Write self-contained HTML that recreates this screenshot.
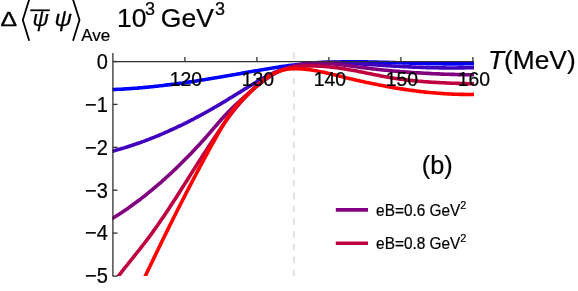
<!DOCTYPE html>
<html><head><meta charset="utf-8"><title>plot</title>
<style>
html,body{margin:0;padding:0;background:#fff;}
body{width:578px;height:291px;position:relative;overflow:hidden;font-family:"Liberation Sans",sans-serif;color:#000;}
svg{display:block;}
</style></head><body>
<svg width="578" height="291" viewBox="0 0 578 291" style="position:absolute;left:0;top:0;will-change:transform">
<line x1="293.9" y1="52.6" x2="293.9" y2="275.75" stroke="#dcdcdc" stroke-width="1.6" stroke-dasharray="6.4 6.35"/>
<g fill="none" stroke-width="3.6" stroke-linejoin="round" clip-path="url(#cp)">
<path d="M109.0,89.7 L110.5,89.6 L112.0,89.6 L113.5,89.5 L115.0,89.5 L116.5,89.4 L118.0,89.3 L119.5,89.3 L121.0,89.2 L122.5,89.1 L124.0,89.0 L125.5,88.9 L127.0,88.8 L128.5,88.7 L130.0,88.6 L131.5,88.5 L133.0,88.4 L134.5,88.3 L136.0,88.2 L137.5,88.1 L139.0,87.9 L140.5,87.8 L142.0,87.7 L143.5,87.5 L145.0,87.4 L146.5,87.3 L148.0,87.1 L149.5,87.0 L151.0,86.8 L152.5,86.7 L154.0,86.5 L155.5,86.3 L157.0,86.2 L158.5,86.0 L160.0,85.8 L161.5,85.7 L163.0,85.5 L164.5,85.3 L166.0,85.1 L167.5,84.9 L169.0,84.8 L170.5,84.6 L172.0,84.4 L173.5,84.2 L175.0,84.0 L176.5,83.8 L178.0,83.6 L179.5,83.4 L181.0,83.2 L182.5,83.0 L184.0,82.7 L185.5,82.5 L187.0,82.3 L188.5,82.1 L190.0,81.9 L191.5,81.7 L193.0,81.4 L194.5,81.2 L196.0,81.0 L197.5,80.7 L199.0,80.5 L200.5,80.3 L202.0,80.0 L203.5,79.8 L205.0,79.6 L206.5,79.3 L208.0,79.1 L209.5,78.8 L211.0,78.6 L212.5,78.3 L214.0,78.1 L215.5,77.8 L217.0,77.6 L218.5,77.3 L220.0,77.1 L221.5,76.8 L223.0,76.6 L224.5,76.3 L226.0,76.0 L227.5,75.8 L229.0,75.5 L230.5,75.3 L232.0,75.0 L233.5,74.7 L235.0,74.5 L236.5,74.2 L238.0,73.9 L239.5,73.7 L241.0,73.4 L242.5,73.1 L244.0,72.9 L245.5,72.6 L247.0,72.3 L248.5,72.1 L250.0,71.8 L251.5,71.5 L253.0,71.3 L254.5,71.0 L256.0,70.7 L257.5,70.5 L259.0,70.2 L260.5,70.0 L262.0,69.7 L263.5,69.5 L265.0,69.2 L266.5,69.0 L268.0,68.7 L269.5,68.5 L271.0,68.2 L272.5,68.0 L274.0,67.7 L275.5,67.5 L277.0,67.3 L278.5,67.1 L280.0,66.8 L281.5,66.6 L283.0,66.4 L284.5,66.2 L286.0,66.0 L287.5,65.8 L289.0,65.6 L290.5,65.4 L292.0,65.2 L293.5,65.0 L295.0,64.9 L296.5,64.7 L298.0,64.5 L299.5,64.4 L301.0,64.2 L302.5,64.1 L304.0,63.9 L305.5,63.8 L307.0,63.6 L308.5,63.5 L310.0,63.4 L311.5,63.3 L313.0,63.2 L314.5,63.1 L316.0,63.0 L317.5,62.9 L319.0,62.8 L320.5,62.7 L322.0,62.6 L323.5,62.5 L325.0,62.5 L326.5,62.4 L328.0,62.3 L329.5,62.3 L331.0,62.2 L332.5,62.2 L334.0,62.1 L335.5,62.1 L337.0,62.0 L338.5,62.0 L340.0,62.0 L341.5,61.9 L343.0,61.9 L344.5,61.9 L346.0,61.9 L347.5,61.9 L349.0,61.9 L350.5,61.8 L352.0,61.8 L353.5,61.8 L355.0,61.8 L356.5,61.8 L358.0,61.9 L359.5,61.9 L361.0,61.9 L362.5,61.9 L364.0,61.9 L365.5,61.9 L367.0,61.9 L368.5,62.0 L370.0,62.0 L371.5,62.0 L373.0,62.0 L374.5,62.1 L376.0,62.1 L377.5,62.1 L379.0,62.2 L380.5,62.2 L382.0,62.2 L383.5,62.3 L385.0,62.3 L386.5,62.4 L388.0,62.4 L389.5,62.5 L391.0,62.5 L392.5,62.5 L394.0,62.6 L395.5,62.6 L397.0,62.7 L398.5,62.7 L400.0,62.8 L401.5,62.8 L403.0,62.9 L404.5,62.9 L406.0,63.0 L407.5,63.0 L409.0,63.0 L410.5,63.1 L412.0,63.1 L413.5,63.2 L415.0,63.2 L416.5,63.3 L418.0,63.3 L419.5,63.4 L421.0,63.4 L422.5,63.4 L424.0,63.5 L425.5,63.5 L427.0,63.6 L428.5,63.6 L430.0,63.6 L431.5,63.7 L433.0,63.7 L434.5,63.7 L436.0,63.8 L437.5,63.8 L439.0,63.8 L440.5,63.8 L442.0,63.8 L443.5,63.9 L445.0,63.9 L446.5,63.9 L448.0,63.9 L449.5,63.9 L451.0,63.9 L452.5,63.9 L454.0,63.9 L455.5,63.9 L457.0,63.9 L458.5,63.9 L460.0,63.9 L461.5,63.9 L463.0,63.9 L464.5,63.8 L466.0,63.8 L467.5,63.8 L469.0,63.8 L470.5,63.7 L472.0,63.7 L473.5,63.6 L474.0,63.6" stroke="#0000ff"/>
<path d="M109.0,152.0 L110.5,151.6 L112.0,151.2 L113.5,150.9 L115.0,150.5 L116.5,150.1 L118.0,149.6 L119.5,149.2 L121.0,148.8 L122.5,148.3 L124.0,147.9 L125.5,147.4 L127.0,147.0 L128.5,146.5 L130.0,146.0 L131.5,145.5 L133.0,145.0 L134.5,144.5 L136.0,144.0 L137.5,143.5 L139.0,143.0 L140.5,142.5 L142.0,141.9 L143.5,141.4 L145.0,140.8 L146.5,140.2 L148.0,139.7 L149.5,139.1 L151.0,138.5 L152.5,137.9 L154.0,137.3 L155.5,136.7 L157.0,136.1 L158.5,135.5 L160.0,134.8 L161.5,134.2 L163.0,133.6 L164.5,132.9 L166.0,132.2 L167.5,131.6 L169.0,130.9 L170.5,130.2 L172.0,129.5 L173.5,128.9 L175.0,128.2 L176.5,127.5 L178.0,126.7 L179.5,126.0 L181.0,125.3 L182.5,124.6 L184.0,123.8 L185.5,123.1 L187.0,122.3 L188.5,121.6 L190.0,120.8 L191.5,120.0 L193.0,119.3 L194.5,118.5 L196.0,117.7 L197.5,116.9 L199.0,116.1 L200.5,115.3 L202.0,114.5 L203.5,113.7 L205.0,112.8 L206.5,112.0 L208.0,111.2 L209.5,110.3 L211.0,109.5 L212.5,108.6 L214.0,107.7 L215.5,106.9 L217.0,106.0 L218.5,105.1 L220.0,104.3 L221.5,103.4 L223.0,102.5 L224.5,101.6 L226.0,100.7 L227.5,99.8 L229.0,98.8 L230.5,97.9 L232.0,97.0 L233.5,96.1 L235.0,95.1 L236.5,94.2 L238.0,93.3 L239.5,92.4 L241.0,91.4 L242.5,90.5 L244.0,89.6 L245.5,88.6 L247.0,87.7 L248.5,86.8 L250.0,85.9 L251.5,85.0 L253.0,84.1 L254.5,83.2 L256.0,82.3 L257.5,81.4 L259.0,80.5 L260.5,79.7 L262.0,78.8 L263.5,78.0 L265.0,77.2 L266.5,76.4 L268.0,75.6 L269.5,74.8 L271.0,74.1 L272.5,73.4 L274.0,72.7 L275.5,72.0 L277.0,71.4 L278.5,70.8 L280.0,70.2 L281.5,69.6 L283.0,69.1 L284.5,68.6 L286.0,68.1 L287.5,67.6 L289.0,67.2 L290.5,66.8 L292.0,66.4 L293.5,66.0 L295.0,65.6 L296.5,65.3 L298.0,65.0 L299.5,64.7 L301.0,64.4 L302.5,64.2 L304.0,64.0 L305.5,63.7 L307.0,63.5 L308.5,63.4 L310.0,63.2 L311.5,63.0 L313.0,62.9 L314.5,62.8 L316.0,62.7 L317.5,62.6 L319.0,62.5 L320.5,62.5 L322.0,62.4 L323.5,62.4 L325.0,62.3 L326.5,62.3 L328.0,62.3 L329.5,62.3 L331.0,62.3 L332.5,62.4 L334.0,62.4 L335.5,62.4 L337.0,62.5 L338.5,62.5 L340.0,62.6 L341.5,62.7 L343.0,62.8 L344.5,62.8 L346.0,62.9 L347.5,63.0 L349.0,63.1 L350.5,63.2 L352.0,63.3 L353.5,63.4 L355.0,63.5 L356.5,63.6 L358.0,63.7 L359.5,63.8 L361.0,63.9 L362.5,64.0 L364.0,64.1 L365.5,64.2 L367.0,64.3 L368.5,64.4 L370.0,64.5 L371.5,64.6 L373.0,64.7 L374.5,64.8 L376.0,64.9 L377.5,65.0 L379.0,65.1 L380.5,65.2 L382.0,65.3 L383.5,65.4 L385.0,65.5 L386.5,65.6 L388.0,65.7 L389.5,65.8 L391.0,65.9 L392.5,66.0 L394.0,66.1 L395.5,66.2 L397.0,66.2 L398.5,66.3 L400.0,66.4 L401.5,66.5 L403.0,66.6 L404.5,66.6 L406.0,66.7 L407.5,66.8 L409.0,66.9 L410.5,66.9 L412.0,67.0 L413.5,67.1 L415.0,67.1 L416.5,67.2 L418.0,67.3 L419.5,67.3 L421.0,67.4 L422.5,67.4 L424.0,67.5 L425.5,67.5 L427.0,67.6 L428.5,67.6 L430.0,67.7 L431.5,67.7 L433.0,67.7 L434.5,67.8 L436.0,67.8 L437.5,67.8 L439.0,67.9 L440.5,67.9 L442.0,67.9 L443.5,67.9 L445.0,67.9 L446.5,68.0 L448.0,68.0 L449.5,68.0 L451.0,68.0 L452.5,68.0 L454.0,68.0 L455.5,68.0 L457.0,68.0 L458.5,67.9 L460.0,67.9 L461.5,67.9 L463.0,67.9 L464.5,67.9 L466.0,67.8 L467.5,67.8 L469.0,67.8 L470.5,67.7 L472.0,67.7 L473.5,67.6 L474.0,67.6" stroke="#4000bf"/>
<path d="M109.0,220.5 L110.5,219.6 L112.0,218.7 L113.5,217.7 L115.0,216.8 L116.5,215.9 L118.0,214.9 L119.5,213.9 L121.0,213.0 L122.5,212.0 L124.0,210.9 L125.5,209.9 L127.0,208.9 L128.5,207.9 L130.0,206.8 L131.5,205.7 L133.0,204.6 L134.5,203.6 L136.0,202.4 L137.5,201.3 L139.0,200.2 L140.5,199.1 L142.0,197.9 L143.5,196.7 L145.0,195.6 L146.5,194.4 L148.0,193.2 L149.5,191.9 L151.0,190.7 L152.5,189.5 L154.0,188.2 L155.5,186.9 L157.0,185.7 L158.5,184.4 L160.0,183.1 L161.5,181.8 L163.0,180.4 L164.5,179.1 L166.0,177.7 L167.5,176.4 L169.0,175.0 L170.5,173.6 L172.0,172.2 L173.5,170.8 L175.0,169.4 L176.5,167.9 L178.0,166.5 L179.5,165.0 L181.0,163.5 L182.5,162.0 L184.0,160.5 L185.5,159.0 L187.0,157.5 L188.5,156.0 L190.0,154.4 L191.5,152.9 L193.0,151.3 L194.5,149.7 L196.0,148.1 L197.5,146.5 L199.0,144.9 L200.5,143.3 L202.0,141.6 L203.5,140.0 L205.0,138.3 L206.5,136.6 L208.0,134.9 L209.5,133.2 L211.0,131.4 L212.5,129.7 L214.0,127.9 L215.5,126.2 L217.0,124.5 L218.5,122.7 L220.0,121.0 L221.5,119.3 L223.0,117.7 L224.5,116.0 L226.0,114.4 L227.5,112.8 L229.0,111.2 L230.5,109.7 L232.0,108.2 L233.5,106.8 L235.0,105.4 L236.5,104.0 L238.0,102.6 L239.5,101.3 L241.0,99.9 L242.5,98.6 L244.0,97.2 L245.5,95.9 L247.0,94.5 L248.5,93.2 L250.0,91.9 L251.5,90.6 L253.0,89.3 L254.5,88.0 L256.0,86.7 L257.5,85.5 L259.0,84.3 L260.5,83.1 L262.0,82.0 L263.5,80.8 L265.0,79.7 L266.5,78.7 L268.0,77.7 L269.5,76.7 L271.0,75.7 L272.5,74.8 L274.0,74.0 L275.5,73.1 L277.0,72.4 L278.5,71.6 L280.0,70.9 L281.5,70.2 L283.0,69.6 L284.5,69.0 L286.0,68.4 L287.5,67.9 L289.0,67.4 L290.5,66.9 L292.0,66.5 L293.5,66.1 L295.0,65.7 L296.5,65.4 L298.0,65.0 L299.5,64.7 L301.0,64.5 L302.5,64.2 L304.0,64.0 L305.5,63.8 L307.0,63.7 L308.5,63.5 L310.0,63.4 L311.5,63.3 L313.0,63.2 L314.5,63.2 L316.0,63.1 L317.5,63.1 L319.0,63.1 L320.5,63.1 L322.0,63.2 L323.5,63.2 L325.0,63.3 L326.5,63.4 L328.0,63.4 L329.5,63.6 L331.0,63.7 L332.5,63.8 L334.0,63.9 L335.5,64.1 L337.0,64.2 L338.5,64.4 L340.0,64.6 L341.5,64.8 L343.0,64.9 L344.5,65.1 L346.0,65.3 L347.5,65.5 L349.0,65.7 L350.5,65.9 L352.0,66.1 L353.5,66.3 L355.0,66.6 L356.5,66.8 L358.0,67.0 L359.5,67.2 L361.0,67.4 L362.5,67.6 L364.0,67.8 L365.5,67.9 L367.0,68.1 L368.5,68.3 L370.0,68.5 L371.5,68.7 L373.0,68.9 L374.5,69.0 L376.0,69.2 L377.5,69.4 L379.0,69.5 L380.5,69.7 L382.0,69.9 L383.5,70.0 L385.0,70.2 L386.5,70.3 L388.0,70.5 L389.5,70.6 L391.0,70.7 L392.5,70.9 L394.0,71.0 L395.5,71.2 L397.0,71.3 L398.5,71.4 L400.0,71.5 L401.5,71.7 L403.0,71.8 L404.5,71.9 L406.0,72.0 L407.5,72.1 L409.0,72.2 L410.5,72.4 L412.0,72.5 L413.5,72.6 L415.0,72.7 L416.5,72.8 L418.0,72.9 L419.5,72.9 L421.0,73.0 L422.5,73.1 L424.0,73.2 L425.5,73.3 L427.0,73.4 L428.5,73.4 L430.0,73.5 L431.5,73.6 L433.0,73.7 L434.5,73.7 L436.0,73.8 L437.5,73.9 L439.0,73.9 L440.5,74.0 L442.0,74.1 L443.5,74.1 L445.0,74.2 L446.5,74.2 L448.0,74.3 L449.5,74.3 L451.0,74.4 L452.5,74.4 L454.0,74.4 L455.5,74.5 L457.0,74.5 L458.5,74.6 L460.0,74.6 L461.5,74.6 L463.0,74.6 L464.5,74.7 L466.0,74.7 L467.5,74.7 L469.0,74.7 L470.5,74.8 L472.0,74.8 L473.5,74.8 L474.0,74.8" stroke="#800080"/>
<path d="M115.3,280.2 L116.8,278.2 L118.3,276.2 L119.8,274.3 L121.3,272.4 L122.8,270.4 L124.3,268.5 L125.8,266.6 L127.3,264.8 L128.8,262.9 L130.3,261.0 L131.8,259.1 L133.3,257.3 L134.8,255.4 L136.3,253.5 L137.8,251.6 L139.3,249.8 L140.8,247.9 L142.3,245.9 L143.8,244.0 L145.3,242.1 L146.8,240.1 L148.3,238.1 L149.8,236.1 L151.3,234.1 L152.8,232.0 L154.3,229.9 L155.8,227.8 L157.3,225.7 L158.8,223.5 L160.3,221.3 L161.8,219.1 L163.3,216.9 L164.8,214.7 L166.3,212.5 L167.8,210.2 L169.3,207.9 L170.8,205.6 L172.3,203.3 L173.8,201.0 L175.3,198.7 L176.8,196.4 L178.3,194.0 L179.8,191.7 L181.3,189.3 L182.8,187.0 L184.3,184.6 L185.8,182.2 L187.3,179.9 L188.8,177.5 L190.3,175.1 L191.8,172.8 L193.3,170.4 L194.8,168.0 L196.3,165.7 L197.8,163.3 L199.3,161.0 L200.8,158.7 L202.3,156.3 L203.8,154.0 L205.3,151.7 L206.8,149.4 L208.3,147.1 L209.8,144.8 L211.3,142.5 L212.8,140.2 L214.3,137.9 L215.8,135.7 L217.3,133.4 L218.8,131.2 L220.3,129.0 L221.8,126.8 L223.3,124.6 L224.8,122.5 L226.3,120.4 L227.8,118.3 L229.3,116.3 L230.8,114.3 L232.3,112.4 L233.8,110.4 L235.3,108.6 L236.8,106.8 L238.3,105.0 L239.8,103.3 L241.3,101.6 L242.8,99.9 L244.3,98.3 L245.8,96.7 L247.3,95.2 L248.8,93.7 L250.3,92.2 L251.8,90.8 L253.3,89.4 L254.8,88.0 L256.3,86.7 L257.8,85.4 L259.3,84.1 L260.8,82.9 L262.3,81.6 L263.8,80.5 L265.3,79.3 L266.8,78.2 L268.3,77.1 L269.8,76.1 L271.3,75.2 L272.8,74.3 L274.3,73.4 L275.8,72.7 L277.3,72.0 L278.8,71.3 L280.3,70.7 L281.8,70.1 L283.3,69.6 L284.8,69.1 L286.3,68.7 L287.8,68.3 L289.3,67.9 L290.8,67.6 L292.3,67.3 L293.8,67.1 L295.3,66.9 L296.8,66.7 L298.3,66.5 L299.8,66.4 L301.3,66.3 L302.8,66.2 L304.3,66.1 L305.8,66.0 L307.3,66.0 L308.8,66.0 L310.3,65.9 L311.8,65.9 L313.3,65.9 L314.8,66.0 L316.3,66.0 L317.8,66.1 L319.3,66.1 L320.8,66.2 L322.3,66.3 L323.8,66.4 L325.3,66.5 L326.8,66.6 L328.3,66.8 L329.8,66.9 L331.3,67.1 L332.8,67.2 L334.3,67.4 L335.8,67.6 L337.3,67.8 L338.8,68.0 L340.3,68.2 L341.8,68.5 L343.3,68.7 L344.8,68.9 L346.3,69.2 L347.8,69.4 L349.3,69.7 L350.8,70.0 L352.3,70.2 L353.8,70.5 L355.3,70.8 L356.8,71.1 L358.3,71.4 L359.8,71.7 L361.3,72.0 L362.8,72.3 L364.3,72.6 L365.8,72.9 L367.3,73.2 L368.8,73.5 L370.3,73.8 L371.8,74.1 L373.3,74.4 L374.8,74.7 L376.3,75.0 L377.8,75.3 L379.3,75.6 L380.8,75.9 L382.3,76.2 L383.8,76.5 L385.3,76.7 L386.8,77.0 L388.3,77.3 L389.8,77.5 L391.3,77.8 L392.8,78.0 L394.3,78.3 L395.8,78.5 L397.3,78.7 L398.8,78.9 L400.3,79.1 L401.8,79.3 L403.3,79.5 L404.8,79.7 L406.3,79.9 L407.8,80.1 L409.3,80.2 L410.8,80.4 L412.3,80.6 L413.8,80.7 L415.3,80.9 L416.8,81.0 L418.3,81.2 L419.8,81.3 L421.3,81.4 L422.8,81.5 L424.3,81.7 L425.8,81.8 L427.3,81.9 L428.8,82.0 L430.3,82.1 L431.8,82.2 L433.3,82.3 L434.8,82.4 L436.3,82.5 L437.8,82.5 L439.3,82.6 L440.8,82.7 L442.3,82.8 L443.8,82.8 L445.3,82.9 L446.8,83.0 L448.3,83.0 L449.8,83.1 L451.3,83.2 L452.8,83.2 L454.3,83.3 L455.8,83.3 L457.3,83.4 L458.8,83.4 L460.3,83.5 L461.8,83.5 L463.3,83.6 L464.8,83.6 L466.3,83.6 L467.8,83.7 L469.3,83.7 L470.8,83.8 L472.3,83.8 L473.8,83.8 L474.0,83.8" stroke="#bf0040"/>
<path d="M143.4,280.1 L144.9,276.9 L146.4,273.8 L147.9,270.6 L149.4,267.5 L150.9,264.3 L152.4,261.2 L153.9,258.1 L155.4,255.0 L156.9,251.9 L158.4,248.8 L159.9,245.7 L161.4,242.6 L162.9,239.5 L164.4,236.5 L165.9,233.4 L167.4,230.4 L168.9,227.4 L170.4,224.3 L171.9,221.3 L173.4,218.3 L174.9,215.3 L176.4,212.3 L177.9,209.4 L179.4,206.4 L180.9,203.5 L182.4,200.5 L183.9,197.6 L185.4,194.6 L186.9,191.7 L188.4,188.8 L189.9,185.9 L191.4,183.1 L192.9,180.2 L194.4,177.3 L195.9,174.5 L197.4,171.7 L198.9,168.8 L200.4,166.0 L201.9,163.2 L203.4,160.4 L204.9,157.7 L206.4,154.9 L207.9,152.1 L209.4,149.4 L210.9,146.7 L212.4,144.0 L213.9,141.3 L215.4,138.6 L216.9,135.9 L218.4,133.2 L219.9,130.6 L221.4,128.0 L222.9,125.5 L224.4,123.0 L225.9,120.6 L227.4,118.2 L228.9,116.0 L230.4,113.7 L231.9,111.6 L233.4,109.6 L234.9,107.7 L236.4,105.8 L237.9,104.1 L239.4,102.5 L240.9,100.9 L242.4,99.5 L243.9,98.0 L245.4,96.6 L246.9,95.2 L248.4,93.8 L249.9,92.3 L251.4,90.9 L252.9,89.5 L254.4,88.1 L255.9,86.7 L257.4,85.3 L258.9,83.9 L260.4,82.6 L261.9,81.4 L263.4,80.1 L264.9,79.0 L266.4,77.9 L267.9,76.8 L269.4,75.9 L270.9,75.0 L272.4,74.1 L273.9,73.4 L275.4,72.7 L276.9,72.0 L278.4,71.5 L279.9,71.0 L281.4,70.5 L282.9,70.1 L284.4,69.8 L285.9,69.5 L287.4,69.2 L288.9,69.0 L290.4,68.9 L291.9,68.8 L293.4,68.7 L294.9,68.7 L296.4,68.7 L297.9,68.7 L299.4,68.8 L300.9,68.9 L302.4,69.0 L303.9,69.1 L305.4,69.3 L306.9,69.4 L308.4,69.6 L309.9,69.8 L311.4,70.0 L312.9,70.3 L314.4,70.5 L315.9,70.8 L317.4,71.1 L318.9,71.4 L320.4,71.7 L321.9,72.0 L323.4,72.3 L324.9,72.6 L326.4,72.9 L327.9,73.3 L329.4,73.6 L330.9,74.0 L332.4,74.4 L333.9,74.7 L335.4,75.1 L336.9,75.5 L338.4,75.8 L339.9,76.2 L341.4,76.6 L342.9,76.9 L344.4,77.3 L345.9,77.7 L347.4,78.0 L348.9,78.4 L350.4,78.8 L351.9,79.1 L353.4,79.5 L354.9,79.8 L356.4,80.2 L357.9,80.5 L359.4,80.8 L360.9,81.2 L362.4,81.5 L363.9,81.8 L365.4,82.2 L366.9,82.5 L368.4,82.8 L369.9,83.1 L371.4,83.4 L372.9,83.7 L374.4,84.0 L375.9,84.3 L377.4,84.6 L378.9,84.9 L380.4,85.2 L381.9,85.5 L383.4,85.8 L384.9,86.1 L386.4,86.4 L387.9,86.6 L389.4,86.9 L390.9,87.2 L392.4,87.4 L393.9,87.7 L395.4,87.9 L396.9,88.2 L398.4,88.4 L399.9,88.7 L401.4,88.9 L402.9,89.1 L404.4,89.4 L405.9,89.6 L407.4,89.8 L408.9,90.0 L410.4,90.2 L411.9,90.4 L413.4,90.6 L414.9,90.8 L416.4,91.0 L417.9,91.2 L419.4,91.4 L420.9,91.6 L422.4,91.7 L423.9,91.9 L425.4,92.1 L426.9,92.2 L428.4,92.4 L429.9,92.5 L431.4,92.7 L432.9,92.8 L434.4,92.9 L435.9,93.0 L437.4,93.2 L438.9,93.3 L440.4,93.4 L441.9,93.5 L443.4,93.6 L444.9,93.7 L446.4,93.8 L447.9,93.9 L449.4,94.0 L450.9,94.0 L452.4,94.1 L453.9,94.2 L455.4,94.2 L456.9,94.3 L458.4,94.3 L459.9,94.4 L461.4,94.4 L462.9,94.4 L464.4,94.4 L465.9,94.5 L467.4,94.5 L468.9,94.5 L470.4,94.5 L471.9,94.5 L473.4,94.4 L474.0,94.4" stroke="#ff0000"/>
</g>
<defs><clipPath id="cp"><rect x="112.30000000000001" y="53.0" width="361.70000000000005" height="223.05"/></clipPath></defs>
<g stroke="#303030" stroke-width="1.3" fill="none">
<line x1="112.9" y1="53.0" x2="112.9" y2="276.55"/>
<line x1="112.9" y1="61.55" x2="474.0" y2="61.55"/>
<line x1="184.9" y1="61.55" x2="184.9" y2="56.949999999999996"/>
<line x1="256.9" y1="61.55" x2="256.9" y2="56.949999999999996"/>
<line x1="328.9" y1="61.55" x2="328.9" y2="56.949999999999996"/>
<line x1="400.9" y1="61.55" x2="400.9" y2="56.949999999999996"/>
<line x1="472.9" y1="61.55" x2="472.9" y2="56.949999999999996"/>
<line x1="112.9" y1="61.5" x2="117.5" y2="61.5"/>
<line x1="112.9" y1="104.4" x2="117.5" y2="104.4"/>
<line x1="112.9" y1="147.3" x2="117.5" y2="147.3"/>
<line x1="112.9" y1="190.2" x2="117.5" y2="190.2"/>
<line x1="112.9" y1="233.1" x2="117.5" y2="233.1"/>
<line x1="112.9" y1="276.1" x2="117.5" y2="276.1"/>
</g>
<line x1="335.8" y1="209.9" x2="368" y2="209.9" stroke="#800080" stroke-width="3.6"/>
<line x1="335.8" y1="243.2" x2="368" y2="243.2" stroke="#bf0040" stroke-width="3.6"/>
<g fill="none" stroke="#000" stroke-width="1.8"><polyline points="29.2,-0.5 22.8,20.1 29.2,40.8"/><polyline points="73,-0.5 79.5,20.1 73,40.8"/></g>
<line x1="30.3" y1="10.3" x2="49.8" y2="10.3" stroke="#000" stroke-width="1.8"/>
<g font-family="Liberation Sans, sans-serif" fill="#000" stroke="#000" stroke-width="0.22">
<text x="185.9" y="86.5" font-size="19.4" text-anchor="middle" transform="translate(0 86.5) scale(1 1.07) translate(0 -86.5)">120</text>
<text x="257.9" y="86.5" font-size="19.4" text-anchor="middle" transform="translate(0 86.5) scale(1 1.07) translate(0 -86.5)">130</text>
<text x="329.9" y="86.5" font-size="19.4" text-anchor="middle" transform="translate(0 86.5) scale(1 1.07) translate(0 -86.5)">140</text>
<text x="401.9" y="86.5" font-size="19.4" text-anchor="middle" transform="translate(0 86.5) scale(1 1.07) translate(0 -86.5)">150</text>
<text x="473.9" y="86.5" font-size="19.4" text-anchor="middle" transform="translate(0 86.5) scale(1 1.07) translate(0 -86.5)">160</text>
<text x="107.9" y="69.0" font-size="20" text-anchor="end" transform="translate(0 69.0) scale(1 1.07) translate(0 -69.0)">0</text>
<text x="107.9" y="111.8" font-size="20" text-anchor="end" transform="translate(0 111.8) scale(1 1.07) translate(0 -111.8)">−1</text>
<text x="107.9" y="154.8" font-size="20" text-anchor="end" transform="translate(0 154.8) scale(1 1.07) translate(0 -154.8)">−2</text>
<text x="107.9" y="197.7" font-size="20" text-anchor="end" transform="translate(0 197.7) scale(1 1.07) translate(0 -197.7)">−3</text>
<text x="107.9" y="240.5" font-size="20" text-anchor="end" transform="translate(0 240.5) scale(1 1.07) translate(0 -240.5)">−4</text>
<text x="107.9" y="283.4" font-size="20" text-anchor="end" transform="translate(0 283.4) scale(1 1.07) translate(0 -283.4)">−5</text>
<text x="0.5" y="26.5" font-size="20.8" text-anchor="start" transform="translate(0.5 0) scale(1.19 1) translate(-0.5 0)" stroke="#000" stroke-width="0.3">&#916;</text>
<text x="32.4" y="26.4" font-size="22.5" text-anchor="start" font-style="italic" stroke="#000" stroke-width="0.25">&#968;</text>
<text x="54.6" y="26.4" font-size="22.5" text-anchor="start" transform="translate(54.6 0) scale(1.07 1) translate(-54.6 0)" font-style="italic" stroke="#000" stroke-width="0.25">&#968;</text>
<text x="81.2" y="40.6" font-size="17" text-anchor="start" >Ave</text>
<text x="117.0" y="26.6" font-size="26.5" text-anchor="start" >10</text>
<text x="145.0" y="14.8" font-size="18" text-anchor="start" >3</text>
<text x="160.8" y="26.6" font-size="26.5" text-anchor="start" >GeV</text>
<text x="215.0" y="14.8" font-size="18" text-anchor="start" >3</text>
<text x="488" y="69.3" font-size="26.3" text-anchor="start" ><tspan font-style="italic">T</tspan>(MeV)</text>
<text x="421.8" y="173.7" font-size="25.3" text-anchor="start" >(b)</text>
<text x="376.1" y="215.6" font-size="16.3" text-anchor="start" transform="translate(376.1 0) scale(0.945 1) translate(-376.1 0)">eB=0.6 GeV<tspan font-size="11.5" dy="-6.6">2</tspan></text>
<text x="376.1" y="248.6" font-size="16.3" text-anchor="start" transform="translate(376.1 0) scale(0.945 1) translate(-376.1 0)">eB=0.8 GeV<tspan font-size="11.5" dy="-6.6">2</tspan></text>
</g>
</svg>
</body></html>
